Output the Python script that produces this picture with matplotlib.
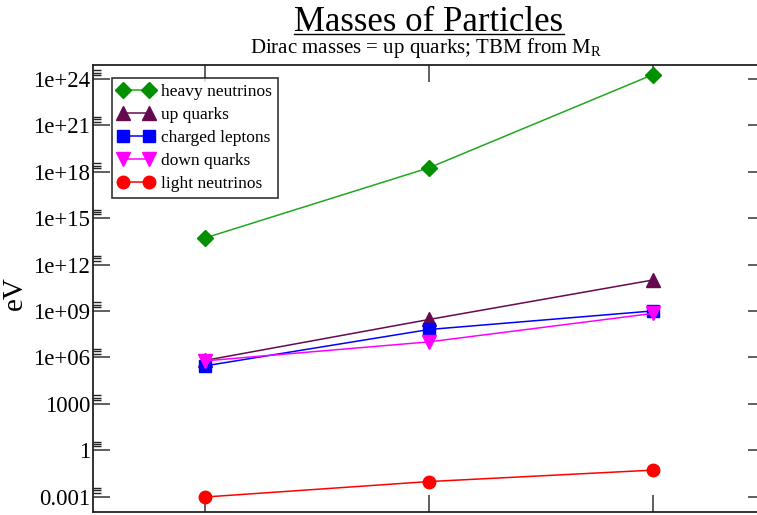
import numpy as np
import matplotlib
matplotlib.use("Agg")
import matplotlib.pyplot as plt
from matplotlib.lines import Line2D
from matplotlib.ticker import FixedLocator, NullFormatter

plt.rcParams['font.family'] = ['Liberation Serif', 'DejaVu Serif']
plt.rcParams['mathtext.fontset'] = 'custom'
plt.rcParams['mathtext.rm'] = 'Liberation Serif'
plt.rcParams['mathtext.it'] = 'Liberation Serif:italic'

# ---- data (eV) ----
generation = [1, 2, 3]
heavy_neutrinos = [5.2e13, 1.8e18, 1.9e24]
up_quarks = [6.3e5, 2.8e8, 1.0e11]
charged_leptons = [2.8e5, 6.3e7, 1.0e9]
down_quarks = [5.9e5, 1.0e7, 6.9e8]
light_neutrinos = [9.3e-4, 9.3e-3, 5.1e-2]

ytick_values = [1e-3, 1, 1e3, 1e6, 1e9, 1e12, 1e15, 1e18, 1e21, 1e24]
ytick_labels = ["0.001", "1", "1000", "1e+06", "1e+09", "1e+12",
                "1e+15", "1e+18", "1e+21", "1e+24"]

series = [
    ("heavy neutrinos", heavy_neutrinos, "#009000", "#20a820", "D", 8.5),
    ("up quarks", up_quarks, "#660a50", "#660a50", "^", 10),
    ("charged leptons", charged_leptons, "#0000ff", "#0000ff", "s", 8.5),
    ("down quarks", down_quarks, "#ff00ff", "#ff00ff", "v", 10),
    ("light neutrinos", light_neutrinos, "#ff0000", "#ff0000", "o", 9),
]

fig = plt.figure(figsize=(7.57, 5.15), dpi=100)
ax = fig.add_axes([93 / 757, 3 / 515, 672 / 757, 447 / 515])

for label, vals, mcol, lcol, mk, ms in series:
    ax.plot(generation, vals, color=lcol, lw=1.1, marker=mk, ms=ms,
            mfc=mcol, mec=mcol, label=label)

ax.set_yscale("log")
ax.set_xlim(0.5, 3.5)
ax.set_ylim(1e-4, 10 ** 24.9)

ax.set_yticks(ytick_values)
ax.set_yticklabels(ytick_labels)
minor = [v * m for v in ytick_values for m in (1.75, 2.5, 3.6)]
ax.yaxis.set_minor_locator(FixedLocator(minor))
ax.yaxis.set_minor_formatter(NullFormatter())
ax.set_xticks(generation)
ax.set_xticklabels([])

ax.tick_params(which="major", direction="in", length=12, width=1.2,
               color="#444444", left=True, right=True, top=True, bottom=True,
               labelsize=16.5, pad=2)
ax.tick_params(which="minor", direction="in", length=6, width=1.0,
               color="#222222", left=True, right=False, top=False, bottom=False)
for s in ax.spines.values():
    s.set_linewidth(1.3)
    s.set_color("#222222")

ax.set_ylabel("eV", fontsize=21)
ax.yaxis.set_label_coords(-0.097, 0.49)

leg = ax.legend(loc="upper left", bbox_to_anchor=(0.028, 0.972), fontsize=12.5,
                frameon=True, fancybox=False, borderaxespad=0,
                handlelength=2.1, handletextpad=0.4, labelspacing=0.4,
                borderpad=0.35, numpoints=2)
leg.get_frame().set_edgecolor("black")
leg.get_frame().set_linewidth(1.2)

cx = 429 / 757
title = fig.text(cx, 1 - 31 / 515, "Masses of Particles", fontsize=25,
                 ha="center", va="baseline")
fig.text(cx - 3 / 757, 1 - 53 / 515, r"Dirac masses = up quarks; TBM from M$_\mathrm{R}$",
         fontsize=15, ha="center", va="baseline")

# underline the title
fig.canvas.draw()
bb = title.get_window_extent(fig.canvas.get_renderer()).transformed(fig.transFigure.inverted())
fig.add_artist(Line2D([bb.x0, bb.x1], [1 - 34 / 515] * 2, color="black", lw=1.0,
                      transform=fig.transFigure))

fig.savefig("out.png", dpi=100)
